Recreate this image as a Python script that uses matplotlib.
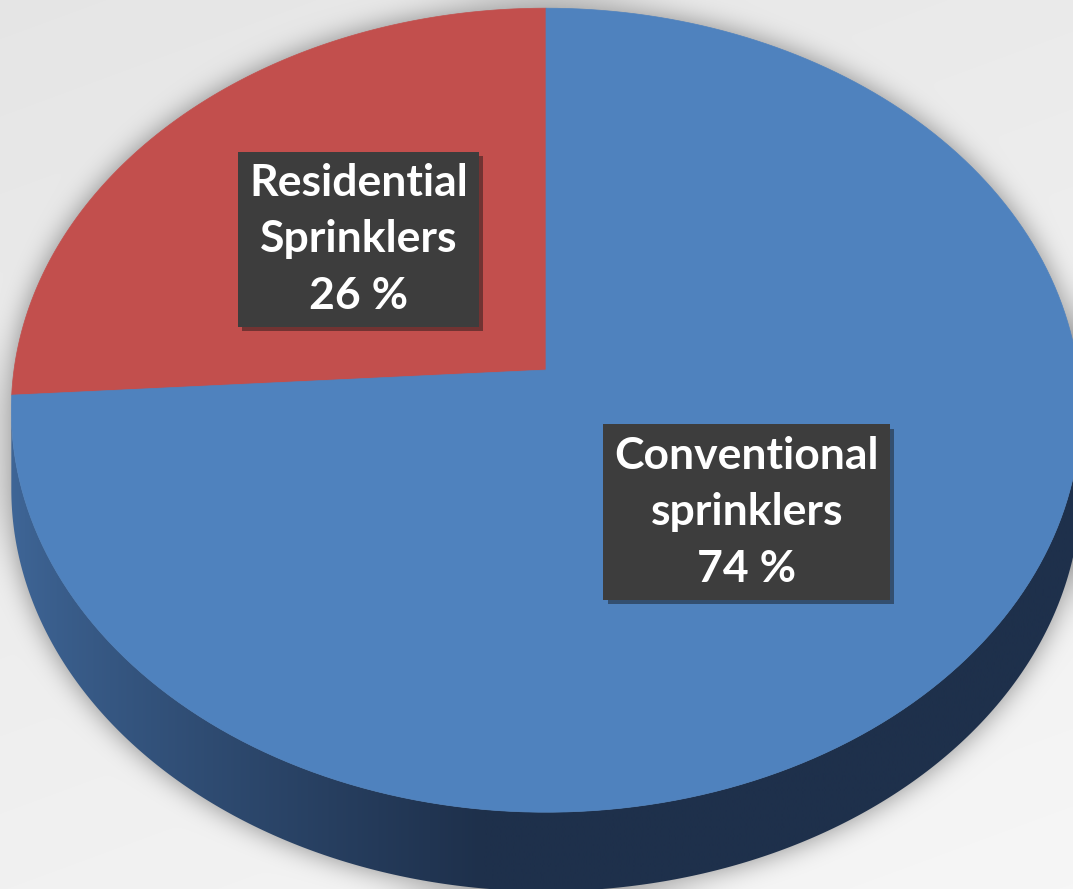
import numpy as np
import matplotlib.pyplot as plt
from matplotlib.patches import Polygon
from matplotlib.path import Path
import matplotlib.patheffects as pe

# Chart data
labels = ['Residential\nSprinklers', 'Conventional\nsprinklers']
values = [26, 74]
colors = ['#c24f4d', '#4f82be']

W, H = 1073, 889
fig = plt.figure(figsize=(W / 100, H / 100), dpi=100)
ax = fig.add_axes([0, 0, 1, 1])
ax.set_xlim(0, W)
ax.set_ylim(H, 0)
ax.axis('off')

# 3D pie geometry (pixels), simple perspective tilt
cx, cy, sx, sy, k, depth = 546, 370, 532, 398, 0.1, 79


def proj(theta_deg, r=1.0, dz=0.0):
    t = np.radians(theta_deg)
    X, Y = r * np.cos(t), r * np.sin(t)
    d = 1 + k * Y
    return np.column_stack([cx + sx * X / d, cy - sy * Y / d + dz])


# leftmost / rightmost points of the projected rim
a_side = np.degrees(np.arcsin(k))
front = np.linspace(180 + a_side, 360 - a_side, 300)
side_pts = np.vstack([proj(front), proj(front[::-1], dz=depth)])
top_pts = proj(np.linspace(0, 360, 600))

# background with soft shadow around the pie
yy, xx = np.mgrid[0:H, 0:W]
bg = 0.90 + 0.045 * (yy / H) + 0.02 * (xx / W)
pts = np.column_stack([xx.ravel() + 0.5, yy.ravel() + 0.5])
inside = Path(top_pts).contains_points(pts) | Path(side_pts).contains_points(pts)
mask = inside.reshape(H, W).astype(float)


def box_blur(a, r):
    p = np.pad(a, ((r + 1, r), (0, 0)), mode='edge')
    c = np.cumsum(p, axis=0)
    a = (c[2 * r + 1:] - c[:-2 * r - 1]) / (2 * r + 1)
    p = np.pad(a, ((0, 0), (r + 1, r)), mode='edge')
    c = np.cumsum(p, axis=1)
    return (c[:, 2 * r + 1:] - c[:, :-2 * r - 1]) / (2 * r + 1)


blur = mask
for _ in range(3):
    blur = box_blur(blur, 12)
shade = bg * (1 - 0.42 * blur)
ax.imshow(np.dstack([shade] * 3), extent=(0, W, H, 0), zorder=0,
          interpolation='bilinear')

# pie side with horizontal gradient
side = Polygon(side_pts, closed=True, fc='none', ec='none', zorder=1)
ax.add_patch(side)
gx = np.linspace(0, 1, 400)
c0 = np.array([0x40, 0x68, 0x9a]) / 255
c1 = np.array([0x1e, 0x30, 0x4b]) / 255
f = np.clip(gx / 0.45, 0, 1) ** 0.8
grad = (c0[None, :] * (1 - f[:, None]) + c1[None, :] * f[:, None])[None, :, :]
im = ax.imshow(grad, extent=(0, W, H, 300), aspect='auto', zorder=1,
               interpolation='bilinear')
im.set_clip_path(side)

# top face wedges
start = 90.0
total = sum(values)
mids = []
for v, col in zip(values, colors):
    span = 360.0 * v / total
    arc = proj(np.linspace(start, start + span, 200))
    poly = np.vstack([[cx, cy], arc])
    ax.add_patch(Polygon(poly, closed=True, fc=col, ec=col, lw=0.5, zorder=2))
    mids.append(start + span / 2)
    start += span

# data labels
for lab, v, m in zip(labels, values, mids):
    px, py = proj(m, r=0.5)[0]
    t = ax.text(px, py + 1, f'{lab}\n{v} %', ha='center', va='center',
                color='white', fontsize=32, fontweight='bold', family='Lato',
                linespacing=1.5, zorder=5,
                bbox=dict(boxstyle='square,pad=0.25', fc='#3d3d3d', ec='none'))
    t.get_bbox_patch().set_path_effects(
        [pe.SimplePatchShadow(offset=(3, -3), alpha=0.45), pe.Normal()])

fig.savefig('out.png', dpi=100)
